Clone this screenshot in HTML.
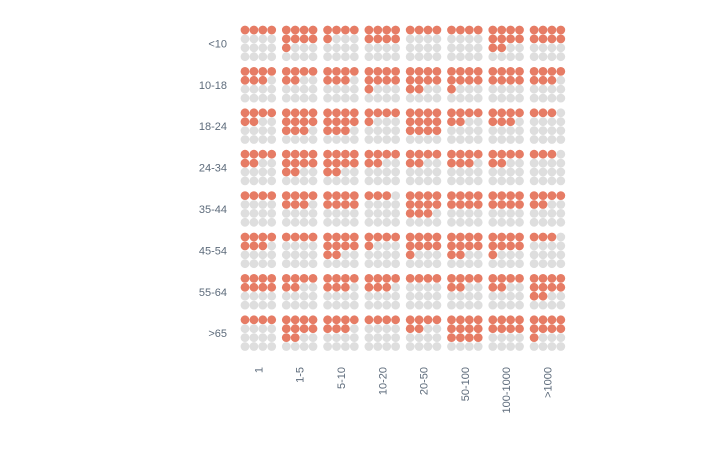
<!DOCTYPE html>
<html><head><meta charset="utf-8"><style>
html,body{margin:0;padding:0;background:#fff;}
svg{display:block;font-family:"Liberation Sans",sans-serif;}
</style></head><body>
<svg id="chart" width="726" height="457"></svg>
<script>
const rowLabels = ["<10","10-18","18-24","24-34","35-44","45-54","55-64",">65"];
const colLabels = ["1","1-5","5-10","10-20","20-50","50-100","100-1000",">1000"];
const filled = [
  [4,9,5,8,4,4,10,8],
  [7,6,7,9,10,9,8,7],
  [6,11,11,5,12,6,7,3],
  [6,10,10,6,6,7,6,3],
  [4,7,8,3,11,8,8,6],
  [7,4,10,5,9,10,9,3],
  [8,6,7,7,4,6,6,10],
  [4,10,7,4,6,12,8,9]
];
const NS = "http://www.w3.org/2000/svg";
const svg = document.getElementById("chart");
const x0 = 245, y0 = 30, cellW = 41.3, cellH = 41.4, dot = 8.9, r = 4.4;
function cx(c){ return x0 + c*cellW; }
function cy(rw){ return y0 + rw*cellH; }
function mk(tag, attrs){ const e=document.createElementNS(NS,tag); for(const k in attrs) e.setAttribute(k,attrs[k]); svg.appendChild(e); return e; }
rowLabels.forEach((lab,i)=>{
  const t = mk("text",{x:227,y:cy(i)+1.5*dot+4,"text-anchor":"end","font-size":"11",fill:"#5d6b7b"});
  
  
  t.textContent = lab;
});
colLabels.forEach((lab,j)=>{
  const x = cx(j)+1.5*dot+4, y = 367;
  const t = mk("text",{x:x,y:y,"text-anchor":"end","font-size":"11",fill:"#5d6b7b",transform:`rotate(-90 ${x} ${y})`});
  
  
  t.textContent = lab;
});
filled.forEach((row,i)=>{
  row.forEach((n,j)=>{
    for(let k=0;k<16;k++){
      const c = mk("circle",{cx:cx(j)+(k%4)*dot,cy:cy(i)+Math.floor(k/4)*dot,r:r,fill:k<n?"#e67c65":"#dedede"});
      
      
    }
  });
});
</script>
</body></html>
